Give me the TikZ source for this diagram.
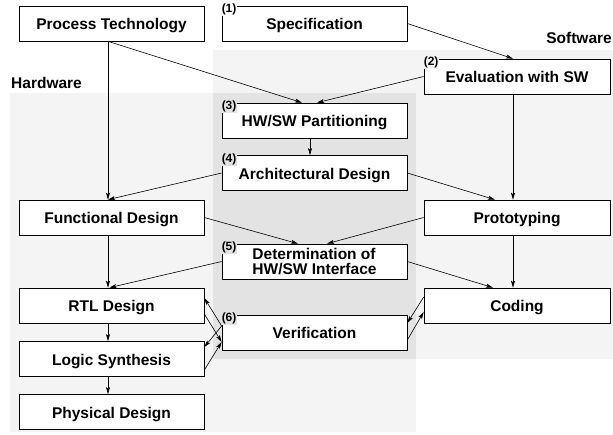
\documentclass[tikz,border=0pt]{standalone}
\usepackage{fontspec}
\setmainfont{Liberation Sans}
\usetikzlibrary{arrows.meta}
\definecolor{bglight}{gray}{0.955}
\definecolor{bgdark}{gray}{0.89}
\begin{document}
\begin{tikzpicture}[x=1pt,y=-1pt,
  box/.style={draw, fill=white, line width=0.7pt, minimum width=185pt, minimum height=35pt, inner sep=0pt, font=\fontsize{15.5}{15}\selectfont\bfseries, align=center},
  onebox/.style={box, text height=12.5pt, text depth=0pt},
  num/.style={anchor=north west, inner xsep=0.5pt, inner ysep=1pt, font=\fontsize{12}{12}\selectfont\bfseries},
  arr/.style={-{Stealth[length=7pt,width=4pt,inset=1.5pt]}, line width=0.6pt},
  lbl/.style={font=\fontsize{15.5}{15}\selectfont\bfseries, inner sep=0pt}]
\useasboundingbox (0,0) rectangle (613,434);
% regions
\fill[bglight] (10,93) rectangle (416,432);
\fill[bglight] (213,50) rectangle (613,359);
\fill[bgdark] (213,93) rectangle (416,359);
\node[lbl, anchor=base west] (hw) at (11,88) {Hardware};
\node[lbl, anchor=base east] (sw) at (612,43) {Software};
% boxes
\node[onebox] (pt) at (111.5,23.5) {Process Technology};
\node[onebox] (spec) at (314.5,23.5) {Specification};
\node[onebox, minimum width=186pt] (eval) at (517,76.5) {Evaluation with SW};
\node[onebox] (part) at (314.5,120.5) {HW/SW Partitioning};
\node[onebox] (arch) at (314.5,173) {Architectural Design};
\node[onebox] (func) at (111.5,217.5) {Functional Design};
\node[onebox, minimum width=186pt] (proto) at (517,217.5) {Prototyping};
\node[box, align=left] (det) at (314.5,261.5) {Determination of\\HW/SW Interface};
\node[onebox] (rtl) at (111.5,305.5) {RTL Design};
\node[onebox, minimum width=186pt] (coding) at (517,305.5) {Coding};
\node[onebox] (verif) at (314.5,332.5) {Verification};
\node[onebox] (logic) at (111.5,359) {Logic Synthesis};
\node[onebox] (phys) at (111.5,412) {Physical Design};
% number labels
\node[num, fill=white] (n1) at ([xshift=-0.6pt,yshift=3pt]spec.north west) {(1)};
\node[num, fill=bglight] (n2) at ([xshift=-0.6pt,yshift=3pt]eval.north west) {(2)};
\node[num, fill=bgdark] (n3) at ([xshift=-0.6pt,yshift=3pt]part.north west) {(3)};
\node[num, fill=bgdark] (n4) at ([xshift=-0.6pt,yshift=3pt]arch.north west) {(4)};
\node[num, fill=bgdark] (n5) at ([xshift=-0.6pt,yshift=3pt]det.north west) {(5)};
\node[num, fill=bgdark] (n6) at ([xshift=-0.6pt,yshift=3pt]verif.north west) {(6)};
% connectors
\draw[arr] ([xshift=-3.5pt]pt.south) -- ([xshift=-3.5pt]func.north);
\draw[arr] ([xshift=-3.5pt]pt.south) -- ([xshift=-12.5pt]part.north);
\draw[arr] (spec.east) -- ([xshift=-4pt]eval.north);
\draw[arr] (eval.west) -- ([xshift=2.5pt]part.north);
\draw[arr] ([xshift=-4.5pt]part.south) -- ([xshift=-4.5pt]arch.north);
\draw[arr] (arch.west) -- ([xshift=-3.5pt]func.north);
\draw[arr] (arch.east) -- ([xshift=-22pt]proto.north);
\draw[arr] ([xshift=-4pt]eval.south) -- ([xshift=-4pt]proto.north);
\draw[arr] (func.east) -- ([xshift=-16.5pt]det.north);
\draw[arr] (proto.west) -- ([xshift=12.5pt]det.north);
\draw[arr] ([xshift=-3.5pt]func.south) -- ([xshift=-3.5pt]rtl.north);
\draw[arr] (det.west) -- ([xshift=-2pt]rtl.north);
\draw[arr] (det.east) -- ([xshift=-24pt]coding.north);
\draw[arr] ([xshift=-4pt]proto.south) -- ([xshift=-4pt]coding.north);
\draw[arr] ([xshift=-3.5pt]rtl.south) -- ([xshift=-3.5pt]logic.north);
\draw[arr] ([xshift=-3.5pt]logic.south) -- ([xshift=-3.5pt]phys.north);
% verification links
\draw[arr] ([yshift=6.5pt]verif.west) -- ([yshift=7.5pt]rtl.east);
\draw[arr] ([yshift=-8.5pt]rtl.east) -- ([yshift=-9.5pt]verif.west);
\draw[arr] ([yshift=6.5pt]verif.west) -- ([yshift=12pt]logic.east);
\draw[arr] ([yshift=-11pt]logic.east) -- ([yshift=-9.5pt]verif.west);
\draw[arr] ([yshift=8.5pt]coding.west) -- ([yshift=9.5pt]verif.east);
\draw[arr] ([yshift=-7.5pt]verif.east) -- ([yshift=-6.5pt]coding.west);
\end{tikzpicture}
\end{document}
